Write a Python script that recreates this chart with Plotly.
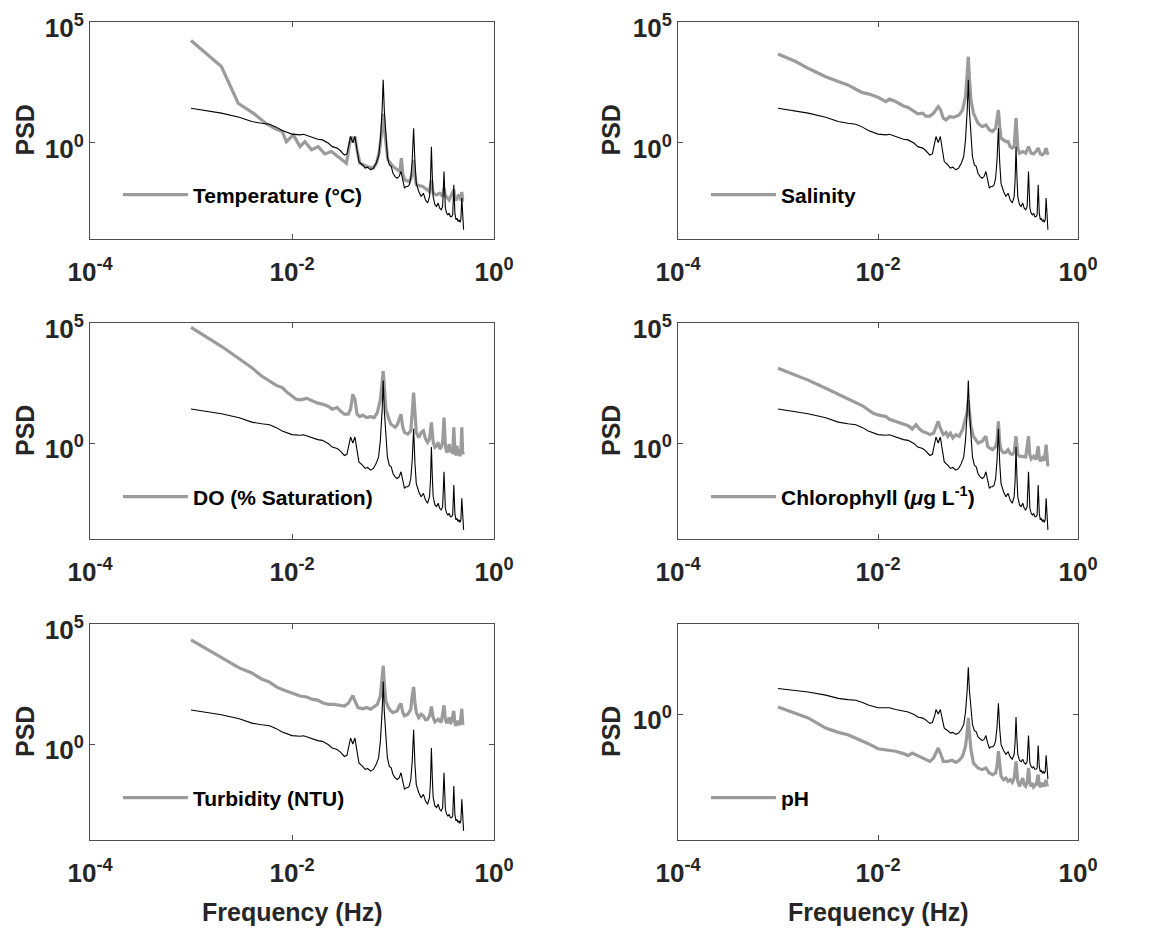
import plotly.graph_objects as go

# ---------------- data ----------------
# Reference spectrum (thin black line, identical in every panel)
REF_F = [0.001, 0.002, 0.003, 0.004, 0.005, 0.006, 0.007, 0.008,
         0.010, 0.012, 0.013, 0.015, 0.018, 0.020,
         0.023, 0.025, 0.028, 0.030, 0.033, 0.035, 0.037, 0.038,
         0.040, 0.042, 0.044, 0.046, 0.050, 0.053, 0.056, 0.060,
         0.064, 0.068, 0.072, 0.075, 0.078, 0.080, 0.082, 0.085,
         0.088, 0.092, 0.096, 0.100,
         0.105, 0.110, 0.115, 0.120, 0.125, 0.130, 0.135, 0.140, 0.145, 0.150,
         0.155, 0.160, 0.165, 0.170,
         0.180, 0.190, 0.200, 0.210, 0.220, 0.230,
         0.235, 0.240, 0.245, 0.250,
         0.260, 0.270, 0.280, 0.290, 0.300, 0.310,
         0.320,
         0.330, 0.340, 0.350, 0.360, 0.370, 0.380, 0.390,
         0.400,
         0.410, 0.420, 0.430, 0.440, 0.450, 0.460, 0.470,
         0.480, 0.490, 0.500]
REF_LOG_PSD = [1.42, 1.22, 1.05, 0.87, 0.80, 0.76, 0.64, 0.50,
               0.35, 0.32, 0.345, 0.25, 0.14, 0.11,
               -0.03, -0.17, -0.23, -0.33, -0.52, -0.47, -0.06, 0.25,
               0.0, 0.25, -0.3, -0.79, -0.93, -1.06, -1.02, -1.13,
               -1.06, -0.86, -0.58, 0.11, 1.35, 2.6, 1.35, 0.11,
               -0.58, -0.93, -0.99, -1.27,
               -1.41, -1.48, -1.41, -1.2, -1.62, -1.89, -1.82, -1.82, -1.75, -1.48,
               -0.72, 0.59, -0.86, -1.69,
               -2.03, -2.24, -2.1, -2.38, -2.51, -2.24,
               -1.55, -0.17, -1.41, -2.24,
               -2.58, -2.65, -2.51, -2.72, -2.79, -2.65,
               -1.2,
               -2.72, -2.93, -3.0, -2.93, -3.07, -3.07, -3.0,
               -1.75,
               -2.93, -3.2, -3.14, -3.27, -3.2, -3.31, -3.2,
               -2.3, -3.34, -3.62]

TEMP_F = [0.001, 0.002, 0.00293, 0.00413, 0.0056, 0.0070, 0.0080,
          0.0088, 0.0103, 0.0120, 0.0134, 0.0156, 0.0182, 0.0211, 0.0246, 0.0297, 0.0346,
          0.037, 0.0385, 0.040, 0.042, 0.044, 0.047, 0.055, 0.0636, 0.0685,
          0.073, 0.077, 0.080, 0.083, 0.089,
          0.1006, 0.113, 0.117, 0.121, 0.125, 0.131, 0.146,
          0.155, 0.160, 0.165, 0.170,
          0.197, 0.229, 0.240, 0.250, 0.268, 0.290,
          0.310, 0.320, 0.330, 0.360, 0.380,
          0.400, 0.410, 0.420, 0.450, 0.470, 0.480, 0.490, 0.500]
TEMP_LOG_PSD = [4.23, 3.15, 1.63, 1.22, 0.77, 0.55, 0.46,
                0.04, 0.32, -0.17, 0.04, -0.30, -0.17, -0.47, -0.37, -0.65, -0.86,
                -0.1, 0.25, 0.0, 0.25, -0.3, -0.86, -0.99, -1.06, -0.86,
                -0.4, 0.4, 1.2, 0.4, -0.72,
                -1.0, -1.13, -1.2, -0.65, -1.3, -1.55, -1.62,
                -1.3, -0.72, -1.4, -1.75,
                -1.82, -2.03, -1.55, -2.1, -2.17, -2.1,
                -2.24, -1.9, -2.2, -2.38, -2.15,
                -1.95, -2.3, -2.4, -2.15, -2.4, -2.05, -2.4, -2.38]

SAL_F = [0.001, 0.0015, 0.002, 0.003, 0.004, 0.005, 0.006, 0.007, 0.008, 0.010,
         0.012, 0.013, 0.015, 0.018, 0.020, 0.023, 0.025, 0.028, 0.030, 0.033,
         0.036, 0.040, 0.042, 0.045, 0.048, 0.052, 0.056, 0.060, 0.065, 0.070,
         0.075, 0.078, 0.080, 0.082, 0.085, 0.090, 0.095, 0.100, 0.110, 0.120,
         0.130, 0.140, 0.150, 0.155, 0.160, 0.165, 0.170, 0.180, 0.190, 0.200,
         0.210, 0.220, 0.230, 0.240, 0.250, 0.260, 0.280, 0.300, 0.320, 0.340,
         0.360, 0.380, 0.400, 0.420, 0.440, 0.460, 0.480, 0.500]
SAL_LOG_PSD = [3.67, 3.36, 3.08, 2.73, 2.53, 2.39, 2.21, 2.07, 2.02, 1.88,
               1.70, 1.80, 1.70, 1.52, 1.46, 1.28, 1.19, 1.22, 1.10, 1.10,
               1.22, 1.49, 1.38, 1.01, 0.94, 1.08, 1.05, 1.08, 1.15, 1.35,
               1.91, 2.87, 3.56, 2.73, 1.77, 1.22, 1.01, 0.80, 0.66, 0.73,
               0.52, 0.46, 0.59, 0.94, 1.35, 0.66, 0.18, 0.11, 0.04, 0.04,
               -0.17, -0.23, -0.17, 1.01, -0.23, -0.44, -0.37, -0.44, -0.17, -0.44,
               -0.47, -0.37, -0.23, -0.47, -0.51, -0.44, -0.23, -0.51]

DO_F = [0.001, 0.002, 0.003, 0.004, 0.005, 0.006, 0.007, 0.008, 0.009, 0.010, 0.011, 0.012,
        0.014, 0.016, 0.018, 0.020, 0.023, 0.025, 0.028, 0.030,
        0.033, 0.036, 0.038, 0.040, 0.042, 0.044, 0.047, 0.050,
        0.055, 0.060, 0.065, 0.070, 0.075, 0.078, 0.080, 0.082,
        0.085, 0.090, 0.095, 0.100, 0.105, 0.110, 0.115, 0.120,
        0.125, 0.130, 0.140, 0.150, 0.155, 0.160, 0.165, 0.170,
        0.180, 0.190, 0.200, 0.210, 0.220, 0.230, 0.240, 0.250,
        0.260, 0.270, 0.280, 0.290, 0.300, 0.310, 0.320, 0.330, 0.340, 0.350,
        0.360, 0.370, 0.380, 0.390, 0.400, 0.410, 0.420, 0.430, 0.440, 0.450,
        0.460, 0.470, 0.480, 0.490, 0.500]
DO_LOG_PSD = [4.82, 4.03, 3.51, 3.14, 2.79, 2.58, 2.40, 2.31, 2.10, 1.96, 1.82, 1.80,
              1.86, 1.75, 1.66, 1.62, 1.52, 1.41, 1.48, 1.34,
              1.20, 1.20, 1.41, 2.03, 1.82, 1.20, 1.10, 1.16,
              1.06, 1.10, 1.06, 1.27, 1.82, 2.51, 3.0, 2.38,
              1.41, 1.06, 0.79, 0.72, 0.65, 0.75, 1.0, 1.20,
              0.65, 0.44, 0.37, 0.51, 1.27, 2.10, 1.27, 0.44,
              0.23, 0.44, 0.51, 0.17, 0.03, 0.17, 0.86, 0.03,
              -0.18, -0.11, 0.03, -0.25, -0.18, 0.03, 1.06, -0.11, -0.39, -0.32,
              -0.04, -0.39, -0.18, -0.46, 0.65, -0.32, -0.52, -0.11, -0.52, -0.25,
              -0.55, -0.39, 0.65, -0.46, -0.39]

CHL_F = [0.001, 0.002, 0.003, 0.004, 0.005, 0.006, 0.007, 0.008, 0.009, 0.010,
         0.012, 0.013, 0.015, 0.018, 0.020, 0.022, 0.024, 0.026, 0.028, 0.030,
         0.033, 0.036, 0.038, 0.040, 0.042, 0.045, 0.048, 0.050, 0.053, 0.056,
         0.060, 0.065, 0.070, 0.075, 0.078, 0.080, 0.082, 0.085, 0.090, 0.095,
         0.100, 0.110, 0.120, 0.125, 0.130, 0.140, 0.150, 0.155, 0.160, 0.165,
         0.170, 0.180, 0.190, 0.200, 0.210, 0.220, 0.230, 0.240, 0.250, 0.260,
         0.280, 0.300, 0.320, 0.330, 0.340, 0.360, 0.380, 0.400, 0.410, 0.420,
         0.440, 0.460, 0.480, 0.490, 0.500]
CHL_LOG_PSD = [3.11, 2.62, 2.28, 2.04, 1.86, 1.69, 1.55, 1.38, 1.24, 1.17,
               1.10, 0.99, 0.90, 0.76, 0.72, 0.58, 0.76, 0.58, 0.48, 0.44,
               0.35, 0.41, 0.69, 0.90, 0.62, 0.35, 0.44, 0.28, 0.41, 0.21,
               0.35, 0.28, 0.55, 0.97, 1.30, 1.80, 1.30, 0.69, 0.28, 0.14,
               0.0, 0.07, 0.28, -0.14, -0.21, -0.28, -0.14, 0.10, 0.90, 0.0,
               -0.28, -0.41, -0.39, -0.28, -0.44, -0.48, -0.39, 0.28, -0.48, -0.55,
               -0.55, -0.58, 0.28, -0.50, -0.66, -0.55, -0.69, -0.14, -0.62, -0.76,
               -0.62, -0.73, -0.07, -0.69, -0.97]

TUR_F = [0.001, 0.002, 0.003, 0.004, 0.005, 0.006, 0.007, 0.008, 0.010, 0.012,
         0.014, 0.016, 0.018, 0.020, 0.023, 0.026, 0.030, 0.033, 0.036, 0.038,
         0.040, 0.042, 0.045, 0.050, 0.055, 0.060, 0.065, 0.070, 0.075, 0.078,
         0.080, 0.082, 0.085, 0.090, 0.095, 0.100, 0.110, 0.115, 0.120, 0.125,
         0.130, 0.140, 0.150, 0.155, 0.160, 0.165, 0.170, 0.180, 0.190, 0.200,
         0.210, 0.220, 0.230, 0.240, 0.250, 0.260, 0.280, 0.300, 0.320, 0.330,
         0.340, 0.360, 0.370, 0.380, 0.400, 0.410, 0.420, 0.440, 0.460, 0.480,
         0.490, 0.500]
TUR_LOG_PSD = [4.34, 3.58, 3.17, 2.96, 2.71, 2.58, 2.38, 2.27, 2.13, 2.0,
               1.96, 1.86, 1.83, 1.72, 1.65, 1.65, 1.61, 1.58, 1.69, 1.86,
               2.02, 1.79, 1.52, 1.47, 1.52, 1.45, 1.56, 1.65, 2.0, 2.69,
               3.26, 2.55, 1.79, 1.52, 1.38, 1.31, 1.38, 1.58, 1.69, 1.31,
               1.17, 1.24, 1.45, 2.0, 2.38, 1.72, 1.31, 1.10, 1.24, 1.17,
               1.01, 1.03, 1.17, 1.56, 1.10, 0.92, 1.03, 0.90, 1.61, 1.03,
               0.87, 1.10, 0.83, 0.96, 1.38, 0.87, 0.76, 0.96, 0.79, 1.47,
               0.83, 0.87]

PH_F = [0.001, 0.0015, 0.002, 0.003, 0.004, 0.005, 0.006, 0.007, 0.008, 0.010,
        0.012, 0.015, 0.018, 0.020, 0.022, 0.025, 0.028, 0.030, 0.033, 0.036,
        0.040, 0.042, 0.045, 0.050, 0.055, 0.060, 0.065, 0.070, 0.075, 0.078,
        0.080, 0.082, 0.085, 0.090, 0.095, 0.100, 0.110, 0.120, 0.130, 0.140,
        0.150, 0.155, 0.160, 0.165, 0.170, 0.180, 0.190, 0.200, 0.210, 0.220,
        0.230, 0.240, 0.250, 0.260, 0.270, 0.280, 0.290, 0.300, 0.310, 0.320,
        0.330, 0.340, 0.350, 0.360, 0.380, 0.400, 0.410, 0.420, 0.440, 0.460,
        0.480, 0.490, 0.500]
PH_LOG_PSD = [0.39, 0.06, -0.22, -0.78, -1.02, -1.15, -1.33, -1.52, -1.65, -1.93,
              -1.98, -2.07, -2.20, -2.31, -2.17, -2.31, -2.44, -2.5, -2.63, -2.44,
              -1.89, -2.17, -2.63, -2.63, -2.57, -2.69, -2.57, -2.35, -1.80, -1.0,
              -0.22, -1.0, -1.98, -2.72, -2.87, -3.0, -3.09, -3.0, -3.28, -3.37,
              -3.28, -2.9, -2.07, -2.9, -3.46, -3.65, -3.56, -3.74, -3.65, -3.80,
              -3.56, -2.63, -3.74, -4.02, -3.74, -3.56, -3.93, -4.02, -3.83, -3.0,
              -3.83, -4.02, -3.83, -4.06, -3.93, -3.37, -3.93, -4.06, -3.83, -4.02,
              -3.65, -3.98, -3.93]

LABELS = ["Temperature (°C)", "Salinity", "DO (% Saturation)",
          "Chlorophyll (<i>μ</i>g L<sup>-1</sup>)", "Turbidity (NTU)", "pH"]
SERIES_F = [TEMP_F, SAL_F, DO_F, CHL_F, TUR_F, PH_F]
SERIES_LOG = [TEMP_LOG_PSD, SAL_LOG_PSD, DO_LOG_PSD, CHL_LOG_PSD, TUR_LOG_PSD, PH_LOG_PSD]

X_TICKS = [1e-4, 1e-2, 1]
X_TICKTEXT = ["10<sup>-4</sup>", "10<sup>-2</sup>", "10<sup>0</sup>"]
Y_TICKS = [[1, 1e5]] * 5 + [[1]]
Y_TICKTEXT = [["10<sup>0</sup>", "10<sup>5</sup>"]] * 5 + [["10<sup>0</sup>"]]
Y_RANGES = [[-4, 5]] * 5 + [[-7, 5]]

for f, v in [(REF_F, REF_LOG_PSD)] + list(zip(SERIES_F, SERIES_LOG)):
    assert len(f) == len(v), (len(f), len(v))

# ---------------- layout constants ----------------
W, H = 1166, 931
X_DOM = [[90 / W, 494 / W], [678 / W, 1078 / W]]
Y_DOM = [[1 - 239 / H, 1 - 22 / H], [1 - 539 / H, 1 - 323 / H], [1 - 840 / H, 1 - 624 / H]]
GRAY = "#9b9b9b"
TXT = "#262626"
FONT = "Liberation Sans, Arial, sans-serif"

fig = go.Figure()
layout = dict(
    width=W, height=H, margin=dict(l=0, r=0, t=0, b=0, autoexpand=False),
    paper_bgcolor="white", plot_bgcolor="white",
    font=dict(family=FONT, color=TXT),
    annotations=[],
)

for i in range(6):
    row, col = divmod(i, 2)
    sfx = "" if i == 0 else str(i + 1)
    xa, ya = "x" + sfx, "y" + sfx
    leg = "legend" + sfx
    y_vals = [10 ** v for v in SERIES_LOG[i]]
    fig.add_trace(go.Scatter(x=SERIES_F[i], y=y_vals, mode="lines", name=LABELS[i],
                             line=dict(color=GRAY, width=3.2), xaxis=xa, yaxis=ya,
                             legend=leg, showlegend=True))
    fig.add_trace(go.Scatter(x=REF_F, y=[10 ** v for v in REF_LOG_PSD], mode="lines",
                             line=dict(color="black", width=1.1), xaxis=xa, yaxis=ya,
                             showlegend=False, hoverinfo="skip"))
    axis_common = dict(showline=True, linecolor="#4d4d4d", linewidth=1, mirror="ticks",
                       ticks="inside", ticklen=5, tickcolor="#4d4d4d", showgrid=False,
                       zeroline=False, automargin=False,
                       tickfont=dict(family=FONT, size=26, color=TXT, weight="bold"))
    layout["xaxis" + sfx] = dict(type="log", range=[-4, 0], domain=X_DOM[col], anchor=ya,
                                 tickvals=X_TICKS, ticktext=X_TICKTEXT,
                                 ticklabelstandoff=10, **axis_common)
    layout["yaxis" + sfx] = dict(type="log", range=Y_RANGES[i], domain=Y_DOM[row], anchor=xa,
                                 tickvals=Y_TICKS[i], ticktext=Y_TICKTEXT[i],
                                 ticklabelshift=6, **axis_common)
    leg_y_px = [195, 497, 798][row]
    leg_x_px = [118, 706][col]
    layout[leg] = dict(x=leg_x_px / W, y=1 - leg_y_px / H, xanchor="left", yanchor="middle",
                       bgcolor="rgba(0,0,0,0)", borderwidth=0, itemwidth=65,
                       font=dict(family=FONT, size=21, color="black", weight="bold"))
    # y-axis title
    layout["annotations"].append(dict(
        text="<b>PSD</b>", textangle=-90, xref="paper", yref="paper",
        x=[25, 611][col] / W, y=sum(Y_DOM[row]) / 2, xanchor="center", yanchor="middle",
        showarrow=False, font=dict(family=FONT, size=25, color=TXT)))

for col in range(2):
    layout["annotations"].append(dict(
        text="<b>Frequency (Hz)</b>", xref="paper", yref="paper",
        x=sum(X_DOM[col]) / 2, y=1 - 912 / H, xanchor="center", yanchor="middle",
        showarrow=False, font=dict(family=FONT, size=25, color=TXT)))

fig.update_layout(**layout)
fig.write_html("out.html")
